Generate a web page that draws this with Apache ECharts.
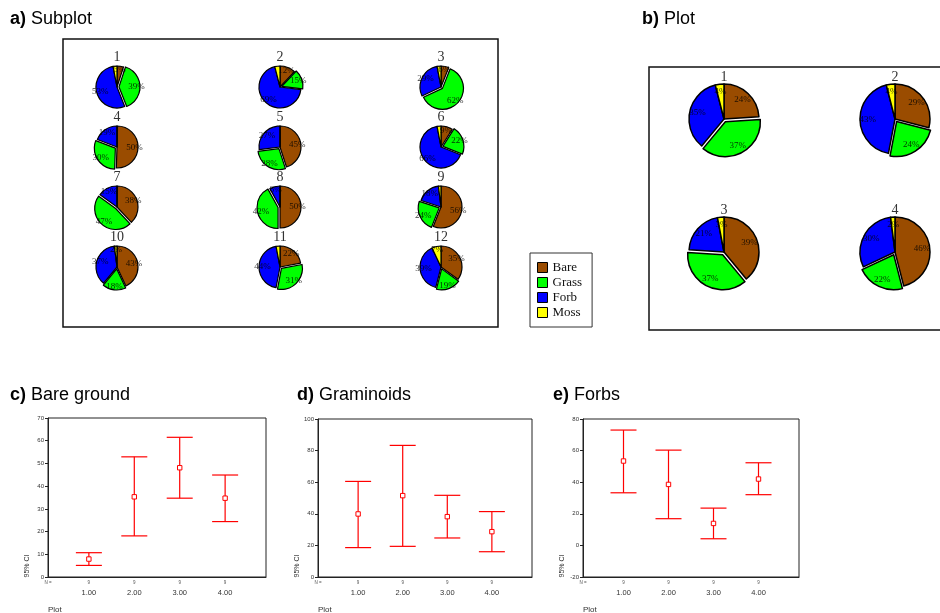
<!DOCTYPE html>
<html>
<head>
<meta charset="utf-8">
<script src="https://cdn.jsdelivr.net/npm/echarts@6.0.0/dist/echarts.min.js"></script>
<style>
  html, body { margin: 0; padding: 0; background: #fff; }
  #chart { width: 940px; height: 613px; }
</style>
</head>
<body>
<div id="chart"></div>
<script>
// Cover classes, drawn clockwise from 12 o'clock
const covers = ['Bare', 'Grass', 'Forb', 'Moss'];
const coverColors = ['#9a4c00', '#00ff00', '#0000ff', '#ffff00'];

// a) cover per subplot (%)
const subplotIds   = ['1', '2', '3', '4', '5', '6', '7', '8', '9', '10', '11', '12'];
const subplotBare  = [5, 12, 6, 50, 45, 9, 38, 50, 56, 43, 22, 35];
const subplotGrass = [39, 15, 62, 30, 28, 22, 47, 42, 24, 18, 31, 19];
const subplotForb  = [53, 69, 29, 19, 27, 66, 15, 8, 18, 37, 44, 39];
const subplotMoss  = [3, 4, 3, 0, 0, 3, 0, 0, 2, 2, 3, 7];

// b) cover per plot (%)
const plotIds   = ['1', '2', '3', '4'];
const plotBare  = [24, 29, 39, 46];
const plotGrass = [37, 24, 37, 22];
const plotForb  = [35, 43, 21, 30];
const plotMoss  = [4, 4, 3, 2];

// c-e) mean cover with 95% confidence interval, by plot
const plotLevels     = [1, 2, 3, 4];
const plotTickLabels = ['1.00', '2.00', '3.00', '4.00'];
const plotN          = [9, 9, 9, 9];

const bareMean = [7.9, 35.3, 48.1, 34.7];
const bareLow  = [5.1, 18.1, 34.7, 24.4];
const bareHigh = [10.7, 52.9, 61.5, 44.9];

const gramMean = [39.9, 51.5, 38.2, 28.7];
const gramLow  = [18.6, 19.4, 24.7, 16.0];
const gramHigh = [60.5, 83.3, 51.7, 41.4];

const forbMean = [53.4, 38.6, 13.9, 42.0];
const forbLow  = [33.3, 16.9, 4.2, 32.1];
const forbHigh = [73.0, 60.3, 23.6, 52.3];

// ---- layout ----
const SANS = '"Liberation Sans", Arial, sans-serif';
const SERIF = '"Liberation Serif", "Times New Roman", serif';

const subCols = [117, 280, 441];
const subRows = [87, 147, 207, 267];
const subR = 21;

const plotCols = [724, 895];
const plotRows = [119, 252];
const plotR = 35;

const shapeSeries = [];
const labelSeries = [];
const graphics = [];

function addPie(values, center, r, offset, fontSize, title, titleGap) {
  const data = covers.map((name, k) => ({
    name: name,
    value: values[k],
    selected: name === 'Grass',
    itemStyle: { color: coverColors[k] }
  }));
  const common = {
    type: 'pie',
    center: center,
    startAngle: 90,
    clockwise: true,
    silent: true,
    selectedMode: 'multiple',
    selectedOffset: offset,
    avoidLabelOverlap: false,
    legendHoverLink: false,
    emphasis: { disabled: true },
    labelLine: { show: false },
    minShowLabelAngle: 0
  };
  shapeSeries.push(Object.assign({}, common, {
    radius: r,
    itemStyle: { borderColor: '#000', borderWidth: r > 30 ? 1.5 : 1.2 },
    label: { show: false },
    data: data
  }));
  // transparent ring that carries the percentage labels
  labelSeries.push(Object.assign({}, common, {
    radius: [r * 0.38, r],
    itemStyle: { color: 'rgba(0,0,0,0)', borderWidth: 0 },
    label: {
      show: true,
      position: 'inside',
      formatter: p => p.value + '%',
      fontFamily: SERIF,
      fontSize: fontSize,
      color: 'rgba(0,0,0,0.8)',
      textBorderWidth: 0
    },
    data: data.map(d => ({ name: d.name, value: d.value, selected: d.selected, itemStyle: { color: 'rgba(0,0,0,0)' } }))
  }));
  graphics.push({
    type: 'text',
    x: center[0],
    y: center[1] - r - titleGap,
    style: {
      text: title,
      font: '14px ' + SERIF,
      fill: '#333',
      textAlign: 'center', align: 'center',
      textVerticalAlign: 'middle', verticalAlign: 'middle'
    }
  });
}

subplotIds.forEach((id, i) => {
  const vals = [subplotBare[i], subplotGrass[i], subplotForb[i], subplotMoss[i]];
  addPie(vals, [subCols[i % 3], subRows[Math.floor(i / 3)]], subR, 2, 9, id, 9);
});
plotIds.forEach((id, i) => {
  const vals = [plotBare[i], plotGrass[i], plotForb[i], plotMoss[i]];
  addPie(vals, [plotCols[i % 2], plotRows[Math.floor(i / 2)]], plotR, 3, 9, id, 6.5);
});

// panel frames
graphics.push({ type: 'rect', z: -1, shape: { x: 63, y: 39, width: 435, height: 288 },
  style: { fill: 'none', stroke: '#111', lineWidth: 1.5 } });
graphics.push({ type: 'rect', z: -1, shape: { x: 649, y: 67, width: 300, height: 263 },
  style: { fill: 'none', stroke: '#111', lineWidth: 1.5 } });

// ---- error bar panels ----
const X_MIN = 0.1, X_MAX = 4.9;
const panels = [
  { heading: 'c)', name: 'Bare ground', hx: 10, mean: bareMean, low: bareLow, high: bareHigh,
    grid: { left: 48, top: 418, width: 218, height: 159 }, yMin: 0, yMax: 70, yStep: 10 },
  { heading: 'd)', name: 'Graminoids', hx: 297, mean: gramMean, low: gramLow, high: gramHigh,
    grid: { left: 318, top: 419, width: 214, height: 158 }, yMin: 0, yMax: 100, yStep: 20 },
  { heading: 'e)', name: 'Forbs', hx: 553, mean: forbMean, low: forbLow, high: forbHigh,
    grid: { left: 583, top: 419, width: 216, height: 158 }, yMin: -20, yMax: 80, yStep: 20 }
];

function renderErrorBar(params, api) {
  const x = api.value(0);
  const pLo = api.coord([x, api.value(1)]);
  const pHi = api.coord([x, api.value(2)]);
  const pM = api.coord([x, api.value(3)]);
  const cap = 13, s = 2.2;
  const st = { stroke: '#ff0000', lineWidth: 1.2, fill: null };
  return {
    type: 'group',
    children: [
      { type: 'line', shape: { x1: pLo[0], y1: pLo[1], x2: pHi[0], y2: pHi[1] }, style: st },
      { type: 'line', shape: { x1: pHi[0] - cap, y1: pHi[1], x2: pHi[0] + cap, y2: pHi[1] }, style: st },
      { type: 'line', shape: { x1: pLo[0] - cap, y1: pLo[1], x2: pLo[0] + cap, y2: pLo[1] }, style: st },
      { type: 'rect', shape: { x: pM[0] - s, y: pM[1] - s, width: 2 * s, height: 2 * s },
        style: { stroke: '#ff0000', fill: '#fff', lineWidth: 1 } }
    ]
  };
}

const grids = [], xAxes = [], yAxes = [], barSeries = [];
const titles = [
  { text: '{b|a)} Subplot', left: 10, top: 10 },
  { text: '{b|b)} Plot', left: 642, top: 10 }
];

panels.forEach((p, i) => {
  grids.push(Object.assign({ show: true, borderColor: '#222', borderWidth: 1,
    backgroundColor: 'transparent', containLabel: false, outerBoundsMode: 'none' }, p.grid));
  xAxes.push({
    gridIndex: i, type: 'value', min: X_MIN, max: X_MAX,
    axisLine: { show: true, onZero: false, lineStyle: { color: '#222', width: 1 } },
    axisTick: { show: false },
    splitLine: { show: false },
    axisLabel: {
      customValues: [X_MIN].concat(plotLevels),
      margin: 2,
      formatter: v => {
        const k = plotLevels.indexOf(v);
        return k < 0 ? '{n|N =}\n{v| }' : '{n|' + plotN[k] + '}\n{v|' + plotTickLabels[k] + '}';
      },
      rich: {
        n: { fontSize: 4.5, lineHeight: 8, color: '#555', fontFamily: SANS },
        v: { fontSize: 7.5, lineHeight: 12, color: '#333', fontFamily: SANS }
      }
    }
  });
  yAxes.push({
    gridIndex: i, type: 'value', min: p.yMin, max: p.yMax, interval: p.yStep,
    axisLine: { show: true, onZero: false, lineStyle: { color: '#222', width: 1 } },
    axisTick: { show: true, length: 3, lineStyle: { color: '#222' } },
    splitLine: { show: false },
    axisLabel: { fontSize: 6, color: '#333', fontFamily: SANS, margin: 4 }
  });
  barSeries.push({
    type: 'custom', xAxisIndex: i, yAxisIndex: i, silent: true,
    renderItem: renderErrorBar,
    encode: { x: 0, y: [1, 2, 3] },
    data: plotLevels.map((lv, k) => [lv, p.low[k], p.high[k], p.mean[k]])
  });
  titles.push({ text: '{b|' + p.heading + '} ' + p.name, left: p.hx, top: 386 });
  graphics.push({
    type: 'text', x: p.grid.left - 21, y: p.grid.top + p.grid.height - 11, rotation: Math.PI / 2,
    style: { text: '95% CI', font: '7px ' + SANS, fill: '#333',
      textAlign: 'center', align: 'center', textVerticalAlign: 'middle', verticalAlign: 'middle' }
  });
  graphics.push({
    type: 'text', x: p.grid.left, y: 610,
    style: { text: 'Plot', font: '8px ' + SANS, fill: '#333',
      textAlign: 'left', align: 'left', textVerticalAlign: 'middle', verticalAlign: 'middle' }
  });
});

const titleStyle = {
  fontFamily: SANS, fontSize: 18, fontWeight: 'normal', color: '#000',
  rich: { b: { fontFamily: SANS, fontSize: 18, fontWeight: 'bold', color: '#000' } }
};
titles.forEach(t => { t.padding = 0; t.textStyle = titleStyle; });

const option = {
  animation: false,
  backgroundColor: '#fff',
  title: titles,
  legend: {
    left: 530, top: 253,
    orient: 'vertical',
    selectedMode: false,
    icon: 'rect',
    itemWidth: 10, itemHeight: 10, itemGap: 2,
    padding: [8, 10, 8, 7],
    borderColor: '#333', borderWidth: 1,
    backgroundColor: '#fff',
    textStyle: { fontFamily: SERIF, fontSize: 13, lineHeight: 11, color: '#111' },
    data: covers.map((name, k) => ({
      name: name,
      itemStyle: { color: coverColors[k], borderColor: '#000', borderWidth: 1 }
    }))
  },
  grid: grids,
  xAxis: xAxes,
  yAxis: yAxes,
  series: shapeSeries.concat(labelSeries, barSeries),
  graphic: graphics
};

const chart = echarts.init(document.getElementById('chart'), null, { renderer: 'canvas' });
chart.setOption(option);
</script>
</body>
</html>
